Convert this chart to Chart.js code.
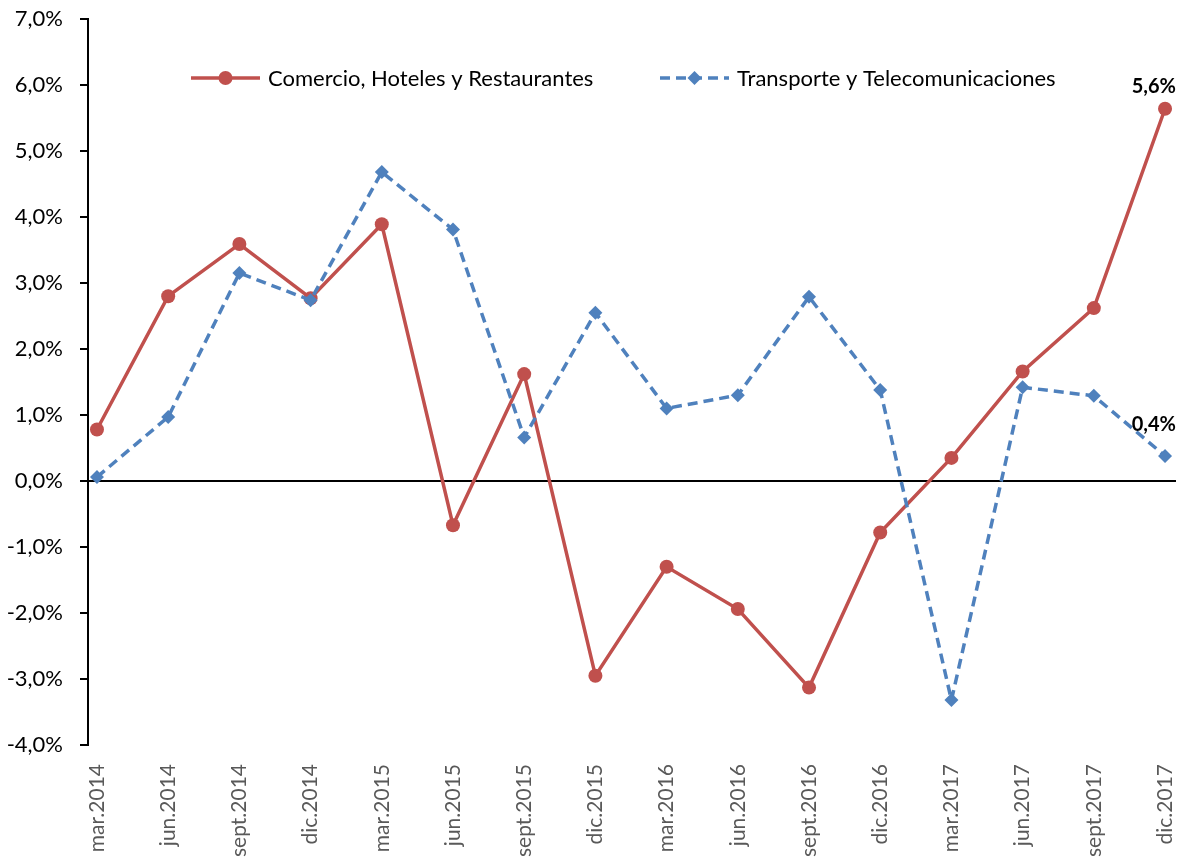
<!DOCTYPE html>
<html>
<head>
<meta charset="utf-8">
<script src="https://cdn.jsdelivr.net/npm/chart.js@4.4.1/dist/chart.umd.min.js"></script>
<style>
  html, body { margin: 0; padding: 0; background: #ffffff; }
  #wrap { width: 1184px; height: 858px; }
</style>
</head>
<body>
<div id="wrap"><canvas id="chart" width="1184" height="858"></canvas></div>
<script>
// Quarterly growth rates (%)
const periods = ['mar.2014','jun.2014','sept.2014','dic.2014','mar.2015','jun.2015','sept.2015','dic.2015',
                 'mar.2016','jun.2016','sept.2016','dic.2016','mar.2017','jun.2017','sept.2017','dic.2017'];
const comercio   = [0.78, 2.80, 3.59, 2.77, 3.89, -0.67, 1.62, -2.95, -1.30, -1.94, -3.13, -0.78, 0.35, 1.66, 2.62, 5.64];
const transporte = [0.06, 0.97, 3.15, 2.74, 4.68, 3.81, 0.66, 2.55, 1.10, 1.30, 2.79, 1.38, -3.32, 1.42, 1.29, 0.38];
const seriesNames = ['Comercio, Hoteles y Restaurantes', 'Transporte y Telecomunicaciones'];
const yTicks = [-4, -3, -2, -1, 0, 1, 2, 3, 4, 5, 6, 7];

const RED = '#C0504D';
const BLUE = '#4F81BD';
const FONT = 'Lato, "Open Sans", sans-serif';

const pct = v => v.toFixed(1).replace('.', ',') + '%';
const toXY = arr => arr.map((v, i) => ({ x: i, y: v }));

// Legend drawn as line + marker samples, like an office chart legend
const lineLegend = {
  id: 'lineLegend',
  afterDraw(chart, args, opts) {
    const ctx = chart.ctx;
    ctx.save();
    chart.data.datasets.forEach((ds, i) => {
      const it = opts.items[i];
      const y = opts.y;
      ctx.strokeStyle = ds.borderColor;
      ctx.lineWidth = ds.borderWidth;
      ctx.setLineDash(ds.borderDash || []);
      ctx.beginPath();
      ctx.moveTo(it.x0, y);
      ctx.lineTo(it.x1, y);
      ctx.stroke();
      ctx.setLineDash([]);
      ctx.fillStyle = ds.pointBackgroundColor;
      ctx.strokeStyle = ds.pointBorderColor;
      Chart.helpers.drawPoint(ctx, {
        pointStyle: ds.pointStyle, radius: ds.pointRadius, rotation: 0, borderWidth: 0
      }, (it.x0 + it.x1) / 2, y);
      ctx.fillStyle = '#000000';
      ctx.font = opts.font;
      ctx.textAlign = 'left';
      ctx.textBaseline = 'middle';
      ctx.fillText(ds.label, it.tx, y + 1);
    });
    ctx.restore();
  }
};

// Value labels on the last point of each series
const lastLabels = {
  id: 'lastLabels',
  afterDatasetsDraw(chart, args, opts) {
    const ctx = chart.ctx;
    ctx.save();
    ctx.font = opts.font;
    ctx.fillStyle = '#000000';
    ctx.textBaseline = 'middle';
    ctx.textAlign = 'center';
    chart.data.datasets.forEach((ds, i) => {
      const meta = chart.getDatasetMeta(i);
      const last = meta.data.length - 1;
      const pt = meta.data[last];
      const txt = pct(ds.data[last].y);
      const w = ctx.measureText(txt).width;
      let cx = pt.x;
      if (cx + w / 2 > chart.chartArea.right) cx = chart.chartArea.right - w / 2;
      ctx.fillText(txt, cx, pt.y - opts.offsets[i]);
    });
    ctx.restore();
  }
};

const chart = new Chart(document.getElementById('chart'), {
  type: 'line',
  data: {
    datasets: [
      {
        label: seriesNames[0],
        data: toXY(comercio),
        borderColor: RED,
        backgroundColor: RED,
        pointBackgroundColor: RED,
        pointBorderColor: RED,
        borderWidth: 3.5,
        pointStyle: 'circle',
        pointRadius: 7,
        pointBorderWidth: 0,
        tension: 0,
        order: 2
      },
      {
        label: seriesNames[1],
        data: toXY(transporte),
        borderColor: BLUE,
        backgroundColor: BLUE,
        pointBackgroundColor: BLUE,
        pointBorderColor: BLUE,
        borderWidth: 3.5,
        borderDash: [10, 6],
        pointStyle: 'rectRot',
        pointRadius: 7,
        pointBorderWidth: 0,
        tension: 0,
        order: 1
      }
    ]
  },
  options: {
    responsive: false,
    animation: false,
    events: [],
    layout: { padding: { top: 19, right: 8, left: 0, bottom: 0 } },
    plugins: {
      legend: { display: false },
      tooltip: { enabled: false },
      lineLegend: {
        y: 78,
        font: '22px ' + FONT,
        items: [
          { x0: 191, x1: 260, tx: 268 },
          { x0: 660, x1: 729, tx: 737 }
        ]
      },
      lastLabels: {
        font: 'bold 20px ' + FONT,
        offsets: [22, 31]
      }
    },
    scales: {
      x: {
        type: 'linear',
        min: -0.126,
        max: 15.154,
        afterBuildTicks: s => { s.ticks = periods.map((_, i) => ({ value: i })); },
        afterFit: s => {
          s.height = 113;
          s.paddingLeft = 0; s.paddingRight = 0;
        },
        grid: { display: false },
        border: { display: false },
        ticks: {
          autoSkip: false,
          maxRotation: 90,
          minRotation: 90,
          padding: 11,
          color: '#595959',
          font: { family: FONT, size: 21 },
          callback: v => periods[v]
        }
      },
      y: {
        type: 'linear',
        min: -4,
        max: 7,
        afterBuildTicks: s => { s.ticks = yTicks.map(v => ({ value: v })); },
        afterFit: s => {
          s.width = 88;
          s.paddingTop = 0; s.paddingBottom = 0;
        },
        border: { display: true, color: '#000000', width: 2 },
        grid: {
          drawOnChartArea: true,
          color: c => (c.tick && c.tick.value === 0 ? '#000000' : 'rgba(0,0,0,0)'),
          lineWidth: 2,
          tickColor: '#000000',
          tickLength: 8,
          tickWidth: 2
        },
        ticks: {
          padding: 17,
          color: '#000000',
          font: { family: FONT, size: 22 },
          callback: v => pct(v)
        }
      }
    }
  },
  plugins: [lineLegend, lastLabels]
});
</script>
</body>
</html>
